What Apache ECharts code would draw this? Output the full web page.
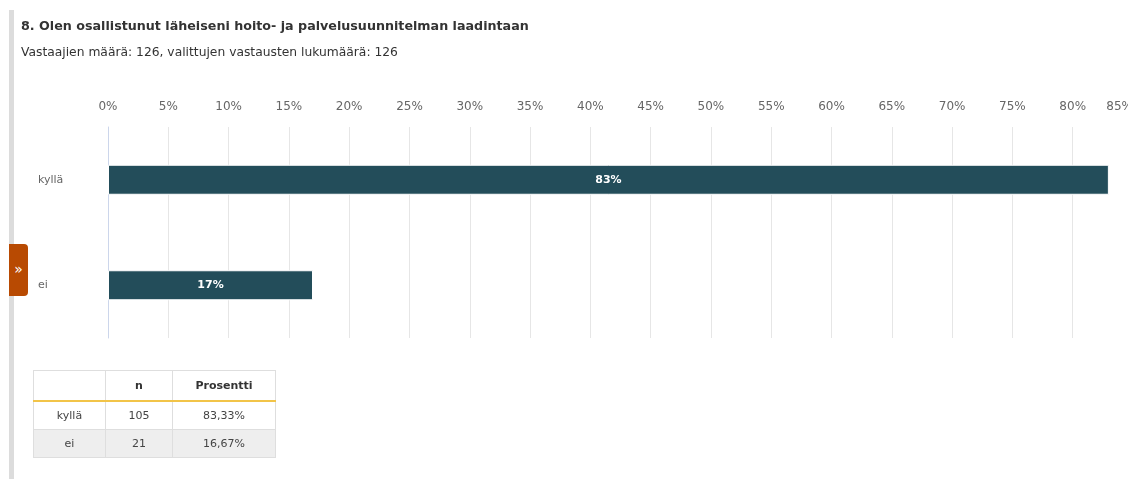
<!DOCTYPE html>
<html>
<head>
<meta charset="utf-8">
<script src="https://cdn.jsdelivr.net/npm/echarts@6/dist/echarts.min.js"></script>
<style>
  html, body { margin:0; padding:0; background:#fff; width:1128px; height:479px; overflow:hidden; font-family:"DejaVu Sans", sans-serif; }
  #chart { position:absolute; left:0; top:0; width:1140px; height:479px; }
  #leftbar { position:absolute; left:9px; top:10px; width:5px; height:469px; background:#dcdcdc; }
  #tab { position:absolute; left:9px; top:244px; width:19px; height:52px; background:#b84a02; border-radius:0 4px 4px 0; color:#fff; font-size:14px; line-height:50px; text-align:center; }
  #tbl { position:absolute; left:33px; top:370px; border-collapse:collapse; font-size:11px; color:#444; font-family:"DejaVu Sans", sans-serif; }
  #tbl td, #tbl th { border:1px solid #dedede; text-align:center; height:27px; padding:0; }
  #tbl th { font-weight:bold; color:#333; border-bottom:2px solid #f2c448; height:29px; }
  #tbl tr.alt td { background:#eeeeee; }
</style>
</head>
<body>
<div id="leftbar"></div>
<div id="chart"></div>
<div id="tab">»</div>
<table id="tbl"></table>
<script>
const titleText = "8. Olen osallistunut läheiseni hoito- ja palvelusuunnitelman laadintaan";
const subText = "Vastaajien määrä: 126, valittujen vastausten lukumäärä: 126";
const categories = ["kyllä", "ei"];
const barPercents = [83, 17];           // drawn (rounded) bar values
const counts = [105, 21];
const percentLabels = ["83,33%", "16,67%"];
const tableHeaders = ["", "n", "Prosentti"];

// table
const colWidths = [71, 66, 102];
const tbl = document.getElementById('tbl');
let html = '<tr>' + tableHeaders.map((h, i) => `<th style="width:${colWidths[i]}px">${h}</th>`).join('') + '</tr>';
categories.forEach((c, i) => {
  html += `<tr class="${i % 2 ? 'alt' : ''}"><td>${c}</td><td>${counts[i]}</td><td>${percentLabels[i]}</td></tr>`;
});
tbl.innerHTML = html;

const FONT = "DejaVu Sans";
const chart = echarts.init(document.getElementById('chart'), null, { renderer: 'canvas' });
chart.setOption({
  animation: false,
  title: {
    text: titleText,
    subtext: subText,
    left: 16, top: 15,
    itemGap: 14,
    textStyle: { fontFamily: FONT, fontSize: 12.7, fontWeight: 'bold', color: '#333' },
    subtextStyle: { fontFamily: FONT, fontSize: 12.3, color: '#333' }
  },
  grid: { left: 108, top: 127, width: 1025, height: 211, containLabel: false },
  xAxis: {
    type: 'value', position: 'top', min: 0, max: 85, interval: 5,
    axisLine: { show: false }, axisTick: { show: false },
    splitLine: { show: true, lineStyle: { color: '#e6e6e6', width: 1 } },
    axisLabel: { formatter: '{value}%', color: '#666', fontSize: 12, fontFamily: FONT, margin: 14, alignMaxLabel: 'right' }
  },
  yAxis: {
    type: 'category', inverse: true, data: categories,
    axisLine: { show: true, lineStyle: { color: '#ccd6eb' } },
    axisTick: { show: false },
    axisLabel: { color: '#666', fontSize: 11, fontFamily: FONT, align: 'left', margin: 70 }
  },
  series: [{
    type: 'bar', data: barPercents, barWidth: 30,
    itemStyle: { color: '#234d5a', borderColor: '#fff', borderWidth: 1 },
    label: {
      show: true, position: 'inside',
      formatter: p => p.value + '%',
      color: '#fff', fontSize: 11, fontWeight: 'bold', fontFamily: FONT
    }
  }]
});
</script>
</body>
</html>
